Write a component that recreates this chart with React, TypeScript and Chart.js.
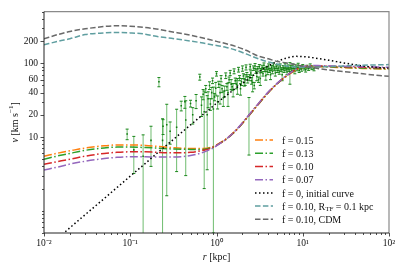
import React, { useEffect, useRef } from "react";
import { Chart, registerables } from "chart.js";
Chart.register(...registerables);

// ---- model curves ----
const curveR = [0.01, 0.015, 0.02, 0.03, 0.05, 0.07, 0.1, 0.15, 0.2, 0.3, 0.5, 0.7, 0.85, 1, 1.3, 1.7, 2.2, 3, 4, 5, 6.5, 8.5, 11, 15, 20, 30, 50, 70, 100];
const vF015 = [5.5, 6.1, 6.5, 7.1, 7.6, 7.8, 7.8, 7.7, 7.5, 7.2, 7.0, 7.0, 7.2, 7.8, 9.5, 12.5, 17.5, 27, 40, 52, 67, 82, 89, 90, 89, 87, 85, 84, 83];
const vF013 = [5.0, 5.6, 6.0, 6.6, 7.1, 7.3, 7.3, 7.2, 7.1, 6.9, 6.8, 6.8, 7.1, 7.7, 9.4, 12.4, 17.6, 27.2, 40.3, 52.3, 67.5, 83, 90, 91, 90, 88, 86, 85, 84];
const vF010 = [4.27, 4.7, 5.0, 5.5, 6.0, 6.2, 6.3, 6.3, 6.2, 6.1, 6.2, 6.6, 7.0, 7.7, 9.4, 12.5, 17.7, 27.4, 40.6, 52.6, 68, 83.5, 91, 92, 91, 89.5, 88, 87, 86];
const vF007 = [3.58, 3.95, 4.3, 4.7, 5.1, 5.3, 5.4, 5.4, 5.35, 5.35, 5.6, 6.2, 6.8, 7.6, 9.4, 12.6, 17.9, 27.7, 41, 53, 68.5, 84, 92, 93, 92, 91, 90, 89, 88];
const vInitial = [0.295, 0.44, 0.59, 0.885, 1.47, 2.06, 2.95, 4.4, 5.9, 8.8, 14.6, 20.3, 24.5, 28.7, 36.5, 46.5, 58, 75, 92, 105, 118, 124, 122, 116, 110, 101, 92, 88, 86];
const vRtf = [178, 200, 215, 245, 258, 262, 258, 248, 232, 218, 200, 188, 180, 174, 164, 150, 134, 116, 104, 98, 92, 89, 88, 89, 90, 92, 94, 95, 96];
const vCdm = [215, 248, 270, 293, 315, 323, 318, 305, 292, 268, 240, 220, 208, 198, 184, 168, 150, 126, 115, 106, 101, 95, 90, 85, 81, 77, 72, 69, 66.7];

// ---- observed rotation curve points ----
const dataR = [0.092, 0.110, 0.141, 0.174, 0.215, 0.237, 0.24, 0.265, 0.29, 0.345, 0.39, 0.43, 0.44, 0.50, 0.53, 0.58, 0.64, 0.67,
  0.70, 0.72, 0.75, 0.78, 0.80, 0.83, 0.85, 0.88, 0.90, 0.92, 0.95, 0.98, 1.00, 1.03, 1.06, 1.10, 1.13, 1.16, 1.20, 1.24, 1.28, 1.32,
  1.36, 1.40, 1.44, 1.48, 1.52, 1.56, 1.60, 1.65, 1.70, 1.75, 1.80, 1.85, 1.90, 1.95, 2.00, 2.05, 2.10, 2.15, 2.20, 2.25, 2.30, 2.38,
  2.42, 2.46, 2.50, 2.55, 2.62, 2.68, 2.74, 2.80, 2.86, 2.93, 3.00, 3.07, 3.14, 3.22, 3.30, 3.38, 3.46, 3.55, 3.64, 3.73, 3.82, 3.92,
  4.02, 4.12, 4.23, 4.34, 4.45, 4.57, 4.69, 4.81, 4.94, 5.07, 5.20, 5.34, 5.48, 5.62, 5.77, 5.92, 6.08, 6.24, 6.40, 6.57, 6.74, 6.92,
  7.10, 7.30, 7.50, 7.70, 7.90, 8.10, 8.35, 8.60, 8.85, 9.10, 9.40, 9.70, 10.0, 10.4, 10.8, 11.2, 11.7, 12.2, 12.8, 13.5];
const dataV = [11, 6.7, 5.5, 9, 56, 9, 14, 14.7, 12, 13.6, 26.6, 30, 17, 28.5, 20, 31, 65, 27,
  38, 22, 45, 20, 33, 50, 28, 40, 58, 24, 35, 46, 72, 30, 52, 40, 62, 45, 34, 42, 68, 48,
  40, 60, 74, 52, 48, 44, 78, 58, 52, 50, 82, 63, 45, 56, 85, 67, 55, 60, 88, 70, 60, 20,
  64, 90, 74, 58, 55, 86, 50, 92, 78, 66, 84, 60, 90, 62, 80, 88, 72, 94, 82, 68, 86, 76,
  92, 80, 70, 88, 78, 95, 84, 74, 90, 80, 86, 76, 92, 82, 70, 88, 80, 94, 84, 76, 90, 82,
  77, 88, 80, 92, 85, 78, 90, 84, 94, 80, 88, 84, 91, 86, 82, 89, 85, 92, 87, 84];
const dataErr = [1.8, 3.5, 5.2, 5, 8, 8.7, 3.2, 13.1, 4, 10.2, 4, 5.5, 14, 3, 5, 6.7, 6, 8,
  6, 20, 5, 16.4, 8, 6, 5, 7, 5, 23.5, 4, 9, 5, 6, 5, 12, 6, 5, 8, 7, 6, 5,
  14, 5, 6, 8, 5, 9, 6, 5, 7, 12, 6, 5, 8, 6, 7, 5, 6, 10, 7, 5, 6, 14.3,
  6, 7, 5, 6, 14, 6, 5, 7, 5, 8, 6, 5, 6, 12, 5, 6, 5, 7, 5, 9, 5, 6,
  6, 5, 10, 5, 6, 6, 5, 7, 5, 5, 6, 5, 6, 5, 12, 5, 5, 6, 5, 6, 5, 5,
  25, 5, 5, 6, 5, 6, 5, 5, 6, 5, 5, 6, 5, 5, 6, 5, 5, 6, 5, 5];

// ---- axes ----
const xMajorTicks = [0.01, 0.1, 1, 10, 100];
const xTickLabels = ["10\u207B\u00B2", "10\u207B\u00B9", "10\u2070", "10\u00B9", "10\u00B2"];
const yMajorTicks = [10, 20, 40, 60, 100, 200];
const yTickLabels = ["10", "20", "40", "60", "100", "200"];
const xRange = [0.01, 100];
const yRange = [0.5, 500];

const legendLabels = ["f = 0.15", "f = 0.13", "f = 0.10", "f = 0.07", "f = 0, initial curve", "f = 0.10, R", "f = 0.10, CDM"];

const FONT = "'Liberation Serif', 'Times New Roman', serif";

const C_ORANGE = "#ff7f0e";
const C_GREEN = "#2ca02c";
const C_RED = "#d62728";
const C_PURPLE = "#9467bd";
const C_BLACK = "#000000";
const C_CYAN = "#5f9ea0";
const C_GRAY = "#696969";

const DASHDOT = [8, 2.5, 1.5, 2.5];
const DASHED = [5.5, 2.4];
const DOTTED = [1.5, 2.5];

function minorTicks(lo: number, hi: number): number[] {
  const out: number[] = [];
  for (let e = Math.floor(Math.log10(lo)); e <= Math.ceil(Math.log10(hi)); e++) {
    for (let k = 1; k <= 9; k++) {
      const v = k * Math.pow(10, e);
      if (v >= lo * 0.999 && v <= hi * 1.001) out.push(v);
    }
  }
  return out;
}

const errorBarPlugin = {
  id: "errorBars",
  beforeDatasetsDraw(chart: any) {
    const { ctx, chartArea, scales } = chart;
    const xs = scales.x, ys = scales.y;
    ctx.save();
    ctx.beginPath();
    ctx.rect(chartArea.left, chartArea.top, chartArea.right - chartArea.left, chartArea.bottom - chartArea.top);
    ctx.clip();
    for (let i = 0; i < dataR.length; i++) {
      const px = xs.getPixelForValue(dataR[i]);
      const hiV = dataV[i] + dataErr[i];
      const loV = dataV[i] - dataErr[i];
      const pyTop = ys.getPixelForValue(hiV);
      const pyBot = loV > 0.01 ? ys.getPixelForValue(loV) : chartArea.bottom + 20;
      ctx.strokeStyle = "rgba(50,160,50,0.7)";
      ctx.lineWidth = 1;
      ctx.setLineDash([]);
      ctx.beginPath();
      ctx.moveTo(px, pyTop);
      ctx.lineTo(px, pyBot);
      ctx.stroke();
      ctx.strokeStyle = "#1a861a";
      ctx.beginPath();
      ctx.moveTo(px - 1.5, pyTop);
      ctx.lineTo(px + 1.5, pyTop);
      ctx.moveTo(px - 1.5, pyBot);
      ctx.lineTo(px + 1.5, pyBot);
      ctx.stroke();
    }
    ctx.restore();
  },
};

const decorPlugin = {
  id: "decor",
  afterDraw(chart: any) {
    const { ctx, chartArea, scales } = chart;
    const { left, right, top, bottom } = chartArea;
    const xs = scales.x, ys = scales.y;
    ctx.save();
    ctx.setLineDash([]);
    // ticks
    ctx.strokeStyle = "#222";
    ctx.lineWidth = 0.8;
    ctx.beginPath();
    for (const v of minorTicks(xRange[0], xRange[1])) {
      const px = Math.round(xs.getPixelForValue(v)) + 0.5;
      const major = xMajorTicks.indexOf(v) >= 0;
      ctx.moveTo(px, bottom);
      ctx.lineTo(px, bottom + (major ? 3.5 : 2));
    }
    for (const v of minorTicks(yRange[0], yRange[1])) {
      const py = Math.round(ys.getPixelForValue(v)) + 0.5;
      const major = yMajorTicks.indexOf(v) >= 0;
      ctx.moveTo(left, py);
      ctx.lineTo(left - (major ? 3.5 : 2), py);
    }
    ctx.stroke();
    // frame
    ctx.lineWidth = 1.2;
    ctx.strokeStyle = "#8a8a8a";
    ctx.beginPath();
    ctx.moveTo(left, top);
    ctx.lineTo(right, top);
    ctx.lineTo(right, bottom);
    ctx.stroke();
    ctx.strokeStyle = "#222";
    ctx.lineWidth = 1;
    ctx.beginPath();
    ctx.moveTo(left, top);
    ctx.lineTo(left, bottom);
    ctx.lineTo(right, bottom);
    ctx.stroke();

    // axis titles
    ctx.fillStyle = "#111";
    ctx.textBaseline = "middle";
    const xt1 = "r", xt2 = " [kpc]";
    ctx.font = `italic 10px ${FONT}`;
    const w1 = ctx.measureText(xt1).width;
    ctx.font = `10px ${FONT}`;
    const w2 = ctx.measureText(xt2).width;
    const cx = (left + right) / 2;
    const xy = 257;
    ctx.font = `italic 10px ${FONT}`;
    ctx.textAlign = "left";
    ctx.fillText(xt1, cx - (w1 + w2) / 2, xy);
    ctx.font = `10px ${FONT}`;
    ctx.fillText(xt2, cx - (w1 + w2) / 2 + w1, xy);
    ctx.save();
    ctx.translate(15, (top + bottom) / 2);
    ctx.rotate(-Math.PI / 2);
    const yt1 = "v", yt2 = " [km s", yt3 = "\u22121", yt4 = "]";
    ctx.font = `italic 10px ${FONT}`;
    const a = ctx.measureText(yt1).width;
    ctx.font = `10px ${FONT}`;
    const b = ctx.measureText(yt2).width;
    const d = ctx.measureText(yt4).width;
    ctx.font = `7px ${FONT}`;
    const c = ctx.measureText(yt3).width;
    let sx = -(a + b + c + d) / 2;
    ctx.font = `italic 10px ${FONT}`;
    ctx.fillText(yt1, sx, 0); sx += a;
    ctx.font = `10px ${FONT}`;
    ctx.fillText(yt2, sx, 0); sx += b;
    ctx.font = `7px ${FONT}`;
    ctx.fillText(yt3, sx, -3.5); sx += c;
    ctx.font = `10px ${FONT}`;
    ctx.fillText(yt4, sx, 0);
    ctx.restore();

    // legend
    const items = [
      { c: C_ORANGE, d: DASHDOT, w: 1.5 },
      { c: C_GREEN, d: DASHDOT, w: 1.5 },
      { c: C_RED, d: DASHDOT, w: 1.5 },
      { c: C_PURPLE, d: DASHDOT, w: 1.5 },
      { c: C_BLACK, d: DOTTED, w: 1.5 },
      { c: C_CYAN, d: DASHED, w: 1.5 },
      { c: C_GRAY, d: DASHED, w: 1.5 },
    ];
    const lx0 = right - 134, lx1 = right - 116, tx = right - 107;
    const rowH = 13.2;
    const y0 = bottom - 13.7 - rowH * (items.length - 1);
    items.forEach((it, i) => {
      const y = y0 + i * rowH;
      ctx.strokeStyle = it.c;
      ctx.lineWidth = it.w;
      ctx.setLineDash(it.d);
      ctx.beginPath();
      ctx.moveTo(lx0, y);
      ctx.lineTo(lx1, y);
      ctx.stroke();
      ctx.setLineDash([]);
      ctx.fillStyle = "#111";
      ctx.font = `10px ${FONT}`;
      ctx.textAlign = "left";
      ctx.textBaseline = "middle";
      ctx.fillText(legendLabels[i], tx, y + 1);
      if (i === 5) {
        let px = tx + ctx.measureText(legendLabels[i]).width;
        ctx.font = `7px ${FONT}`;
        ctx.fillText("TF", px, y + 3.5);
        px += ctx.measureText("TF").width;
        ctx.font = `10px ${FONT}`;
        ctx.fillText(" = 0.1 kpc", px, y + 1);
      }
    });
    ctx.restore();
  },
};

function lineDs(label: string, vals: number[], color: string, dash: number[], order: number) {
  return {
    type: "line" as const,
    label,
    data: curveR.map((r, i) => ({ x: r, y: vals[i] })),
    borderColor: color,
    borderWidth: 1.5,
    borderDash: dash,
    pointRadius: 0,
    fill: false,
    cubicInterpolationMode: "monotone" as const,
    order,
  };
}

export default function App() {
  const ref = useRef<HTMLCanvasElement | null>(null);
  useEffect(() => {
    document.body.style.margin = "0";
    const canvas = ref.current;
    if (!canvas) return;
    const chart = new Chart(canvas, {
      type: "line",
      data: {
        datasets: [
          lineDs("f = 0.10, CDM", vCdm, C_GRAY, DASHED, 1),
          lineDs("f = 0.10, RTF", vRtf, C_CYAN, DASHED, 2),
          lineDs("f = 0", vInitial, C_BLACK, DOTTED, 3),
          lineDs("f = 0.07", vF007, C_PURPLE, DASHDOT, 4),
          lineDs("f = 0.10", vF010, C_RED, DASHDOT, 5),
          lineDs("f = 0.13", vF013, C_GREEN, DASHDOT, 6),
          lineDs("f = 0.15", vF015, C_ORANGE, DASHDOT, 7),
          {
            type: "scatter" as const,
            label: "data",
            data: dataR.map((r, i) => ({ x: r, y: dataV[i] })),
            pointRadius: 1.1,
            pointStyle: "rect",
            backgroundColor: "#137a13",
            borderWidth: 0,
            order: 10,
          },
        ] as any,
      },
      options: {
        animation: false,
        responsive: false,
        devicePixelRatio: 1,
        layout: { padding: { top: 10, right: 18, left: 0, bottom: 0 } },
        plugins: { legend: { display: false }, tooltip: { enabled: false } },
        scales: {
          x: {
            type: "logarithmic",
            min: xRange[0],
            max: xRange[1],
            grid: { display: false, drawTicks: false },
            border: { display: false },
            afterBuildTicks: (s: any) => { s.ticks = xMajorTicks.map((v) => ({ value: v })); },
            afterFit: (s: any) => { s.height = 38; },
            ticks: {
              autoSkip: false,
              maxRotation: 0,
              padding: 5,
              color: "#111",
              font: { family: FONT, size: 9.5 },
              callback: (v: any) => { const i = xMajorTicks.indexOf(Number(v)); return i >= 0 ? xTickLabels[i] : ""; },
            },
          },
          y: {
            type: "logarithmic",
            min: yRange[0],
            max: yRange[1],
            grid: { display: false, drawTicks: false },
            border: { display: false },
            afterBuildTicks: (s: any) => { s.ticks = yMajorTicks.map((v) => ({ value: v })); },
            afterFit: (s: any) => { s.width = 44; },
            ticks: {
              autoSkip: false,
              padding: 6,
              color: "#111",
              font: { family: FONT, size: 9.5 },
              callback: (v: any) => { const i = yMajorTicks.indexOf(Number(v)); return i >= 0 ? yTickLabels[i] : ""; },
            },
          },
        },
      } as any,
      plugins: [errorBarPlugin, decorPlugin],
    });
    return () => chart.destroy();
  }, []);
  return (
    <div style={{ width: 407, height: 271, position: "relative" }}>
      <canvas ref={ref} width={407} height={271} style={{ display: "block" }} />
    </div>
  );
}
